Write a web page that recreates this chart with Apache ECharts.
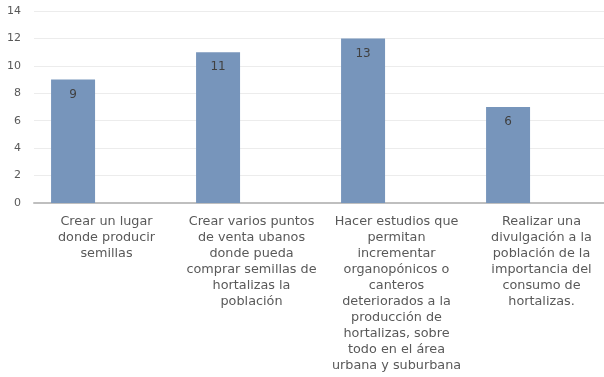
<!DOCTYPE html>
<html>
<head>
<meta charset="utf-8">
<script src="https://cdn.jsdelivr.net/npm/echarts@6/dist/echarts.min.js"></script>
<style>
  html, body { margin: 0; padding: 0; background: #fff; overflow: hidden; }
  #chart { width: 614px; height: 377px; }
</style>
</head>
<body>
<div id="chart"></div>
<script>
// propuestas - barras
var categorias = [
    'Crear un lugar\ndonde producir\nsemillas',
    'Crear varios puntos\nde venta ubanos\ndonde pueda\ncomprar semillas de\nhortalizas la\npoblación',
    'Hacer estudios que\npermitan\nincrementar\norganopónicos o\ncanteros\ndeteriorados a la\nproducción de\nhortalizas, sobre\ntodo en el área\nurbana y suburbana',
    'Realizar una\ndivulgación a la\npoblación de la\nimportancia del\nconsumo de\nhortalizas.'
];
var valores = [9, 11, 12, 7];
// etiquetas escritas sobre las barras
var etiquetas = ['9', '11', '13', '6'];
var vacio = [null, null, null, null];

var myChart = echarts.init(document.getElementById('chart'));
var fuente = '"DejaVu Sans", Verdana, sans-serif';

var option = {
    animation: false,
    grid: {
        left: 34,
        right: 0,
        top: 11,
        bottom: 174
    },
    xAxis: {
        type: 'category',
        data: categorias,
        axisLine: { lineStyle: { color: '#bfbfbf', width: 2 } },
        axisTick: { show: false },
        axisLabel: {
            interval: 0,
            margin: 11,
            color: '#595959',
            fontFamily: fuente,
            fontSize: 12.8,
            lineHeight: 16
        }
    },
    yAxis: {
        type: 'value',
        min: 0,
        max: 14,
        interval: 2,
        axisLine: { show: false },
        axisTick: { show: false },
        splitLine: { lineStyle: { color: '#ececec' } },
        axisLabel: {
            margin: 13,
            color: '#595959',
            fontFamily: fuente,
            fontSize: 11
        }
    },
    series: [
        {
            type: 'bar',
            data: valores,
            barWidth: 44,
            barGap: '52%',
            itemStyle: { color: '#7795bb', borderWidth: 0 },
            label: {
                show: true,
                position: 'insideTop',
                distance: 9,
                color: '#404040',
                fontFamily: fuente,
                fontSize: 12,
                formatter: function (p) { return etiquetas[p.dataIndex]; }
            }
        },
        {
            type: 'bar',
            data: vacio,
            barWidth: 44
        }
    ]
};

myChart.setOption(option);
</script>
</body>
</html>
